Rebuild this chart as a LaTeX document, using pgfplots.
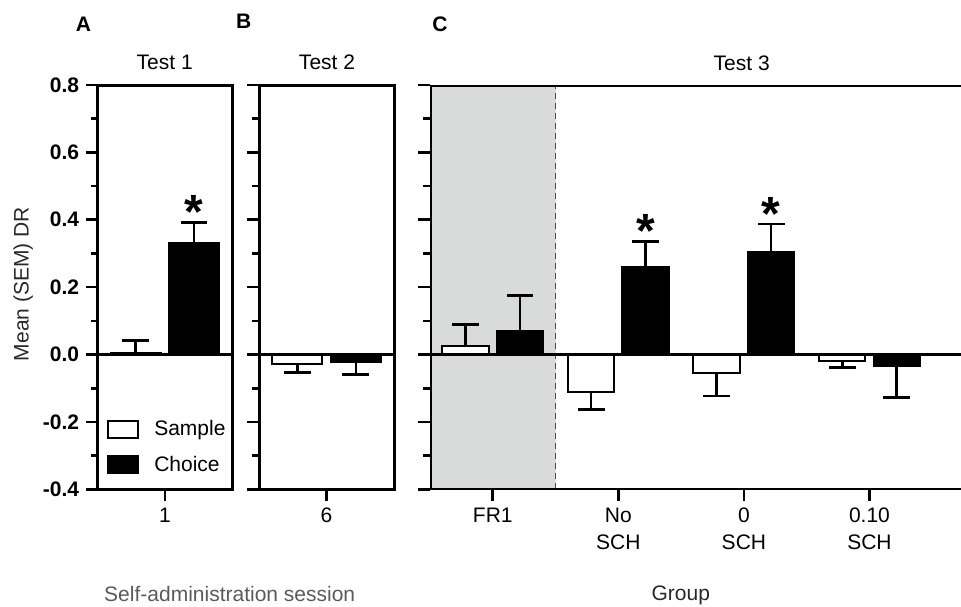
\documentclass[border=0pt]{standalone}
\usepackage{pgfplots}
\pgfplotsset{compat=1.18}
\usepackage{fontspec}
\setmainfont{Liberation Sans}
\definecolor{bandgray}{RGB}{217,218,218}
\definecolor{darktxt}{RGB}{40,40,40}
\definecolor{graytxt}{RGB}{90,90,90}
\newcommand{\fs}{\fontsize{10.5}{13.3}\selectfont}

\pgfplotsset{
  panel/.style={
    scale only axis, height=202.15pt, anchor=south west,
    ymin=-0.4, ymax=0.8,
    ytick={-0.4,-0.2,0,0.2,0.4,0.6,0.8},
    minor y tick num=1,
    tick align=outside,
    major tick length=5.8pt, minor tick length=3.3pt,
    tick style={black, line width=1.3pt},
    xtick pos=left, ytick pos=left,
    axis line style={line width=1.5pt},
    ybar, bar width=0.37,
    xticklabel style={font=\fs, align=center},
    yticklabel style={font=\bfseries\fs},
  },
  sample/.style={draw=black, fill=white, line width=1pt},
  choice/.style={draw=black, fill=black, line width=1pt},
  boxleg/.style={legend image code/.code={\draw[##1, line width=1pt] (0pt,-3.5pt) rectangle (15pt,5pt);}},
  errup/.style={error bars/.cd, y dir=plus, y explicit, error mark=|,
    error bar style={line width=1.3pt, black},
    error mark options={line width=1.3pt, mark size=6.7pt, black}},
  errdn/.style={error bars/.cd, y dir=minus, y explicit, error mark=|,
    error bar style={line width=1.3pt, black},
    error mark options={line width=1.3pt, mark size=6.7pt, black}},
}

\begin{document}
\begin{tikzpicture}
\useasboundingbox (0,0) rectangle (480.5pt,303pt);

% A: Test 1
\begin{axis}[panel, at={(48.85pt,58.35pt)}, width=67.15pt,
  xmin=0.5, xmax=1.5, xtick={1}, xticklabels={1},
  yticklabels={-0.4,-0.2,0.0,0.2,0.4,0.6,0.8},
  legend style={draw=none, fill=none, at={(0.064,0.0317)}, anchor=south west,
    inner sep=0pt, row sep=7.2pt, column sep=7.8pt, font=\fs,
    nodes={inner sep=0pt, text height=7.5pt, text depth=2.5pt}},
  legend cell align=left]
\addplot[sample, boxleg, bar shift=-0.217, errup] coordinates {(1,0.006) +- (0,0.036)};
\addlegendentry{Sample}
\addplot[choice, boxleg, bar shift=0.217, errup] coordinates {(1,0.332) +- (0,0.060)};
\addlegendentry{Choice}
\draw[line width=1.5pt] (axis cs:0.5,0) -- (axis cs:1.5,0);
\node[anchor=north, inner sep=0pt, font=\bfseries\fontsize{24}{24}\selectfont] at ([yshift=13.5pt]axis cs:1.217,0.392) {*};
\end{axis}

% B: Test 2
\begin{axis}[panel, at={(129.5pt,58.35pt)}, width=67.5pt,
  xmin=5.5, xmax=6.5, xtick={6}, xticklabels={6}, yticklabels={}]
\addplot[sample, bar shift=-0.217, errdn] coordinates {(6,-0.027) +- (0,0.026)};
\addplot[choice, bar shift=0.217, errdn] coordinates {(6,-0.022) +- (0,0.037)};
\draw[line width=1.5pt] (axis cs:5.5,0) -- (axis cs:6.5,0);
\end{axis}

% C: Test 3
\begin{axis}[panel, at={(215pt,58.35pt)}, width=265.5pt,
  xmin=-0.5, xmax=3.729, xtick={0,1,2,3},
  xticklabels={FR1, No\\SCH, 0\\SCH, 0.10\\SCH}, yticklabels={},
  axis line style={draw=none}]
\fill[bandgray] (axis cs:-0.5,-0.4) rectangle (axis cs:0.5,0.8);
\draw[densely dashed, line width=0.6pt, black!70] (axis cs:0.5,-0.4) -- (axis cs:0.5,0.8);
\addplot[sample, bar shift=-0.217, errup] coordinates {(0,0.025) +- (0,0.065)};
\addplot[sample, bar shift=-0.217, errdn] coordinates {(1,-0.112) +- (0,0.051) (2,-0.055) +- (0,0.068) (3,-0.018) +- (0,0.020)};
\addplot[choice, bar shift=0.217, errup] coordinates {(0,0.070) +- (0,0.106) (1,0.260) +- (0,0.076) (2,0.305) +- (0,0.083)};
\addplot[choice, bar shift=0.217, errdn] coordinates {(3,-0.034) +- (0,0.094)};
\draw[line width=1.5pt] (axis cs:-0.5,0) -- (axis cs:3.729,0);
\draw[line width=1.5pt] (rel axis cs:1,1) -- (rel axis cs:0,1) -- (rel axis cs:0,0) -- (rel axis cs:1,0);
\node[anchor=north, inner sep=0pt, font=\bfseries\fontsize{24}{24}\selectfont] at ([yshift=13.5pt]axis cs:1.217,0.336) {*};
\node[anchor=north, inner sep=0pt, font=\bfseries\fontsize{24}{24}\selectfont] at ([yshift=13.5pt]axis cs:2.217,0.388) {*};
\end{axis}

% titles, panel letters and labels
\node[anchor=base, font=\fs] at (82.35pt,268.3pt) {Test 1};
\node[anchor=base, font=\fs] at (163.5pt,268.3pt) {Test 2};
\node[anchor=base, font=\fs] at (370.85pt,267.7pt) {Test 3};
\node[anchor=base, font=\bfseries\fs] at (41.7pt,287.2pt) {A};
\node[anchor=base, font=\bfseries\fs] at (121.85pt,288.8pt) {B};
\node[anchor=base, font=\bfseries\fs] at (220pt,287.2pt) {C};
\node[rotate=90, font=\fs, text=darktxt] at (11.65pt,161pt) {Mean (SEM) DR};
\node[anchor=base, font=\fs, text=graytxt] at (114.85pt,2.5pt) {Self-administration session};
\node[anchor=base, font=\fs, text=darktxt] at (340.4pt,3pt) {Group};
\end{tikzpicture}
\end{document}
